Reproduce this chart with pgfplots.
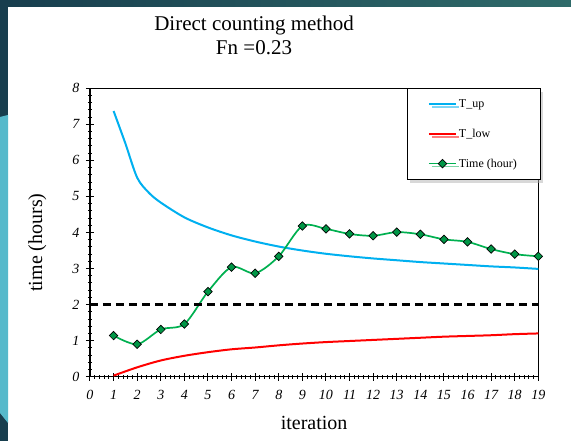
\documentclass[border=0pt]{standalone}
\usepackage{fontspec}
\setmainfont{Liberation Serif}
\usepackage{pgfplots}
\pgfplotsset{compat=1.18}
\usetikzlibrary{shadows}
\definecolor{tup}{RGB}{0,176,240}
\definecolor{tlow}{RGB}{255,0,0}
\definecolor{tgreen}{RGB}{0,176,80}
\definecolor{mgreen}{RGB}{0,150,70}
\definecolor{darkteal}{RGB}{24,62,78}
\definecolor{teal2}{RGB}{47,107,106}
\definecolor{lightblue}{RGB}{86,185,203}
\begin{document}
\begin{tikzpicture}
\fill[white] (0,0) rectangle (571pt,441pt);
\shade[left color=darkteal, right color=teal2] (0,434pt) rectangle (571pt,441pt);
\fill[darkteal] (0,0) rectangle (8pt,441pt);
\fill[lightblue] (0,324pt) -- (8pt,326pt) -- (8pt,18pt) -- (0,28pt) -- cycle;
\node[font=\fontsize{21}{24}\selectfont] at (254pt,416pt) {Direct counting method};
\node[font=\fontsize{21}{24}\selectfont] at (254pt,393pt) {Fn =0.23};
\begin{axis}[
  at={(90pt,64.3pt)}, anchor=south west, scale only axis,
  width=448.3pt, height=288.4pt,
  xmin=0, xmax=19, ymin=0, ymax=8,
  xtick={0,...,19}, ytick={0,...,8},
  minor x tick num=4, minor y tick num=4,
  tick pos=left, tick align=center,
  major tick length=8pt, minor tick length=4pt,
  axis line style={line width=1.2pt},
  tick style={black, line width=1pt},
  /pgf/number format/assume math mode=true,
  tick label style={font=\fontsize{14}{16}\selectfont\itshape},
  xticklabel style={yshift=-6pt},
  yticklabel style={xshift=-3pt},
  xlabel={iteration}, ylabel={time (hours)},
  label style={font=\fontsize{20}{24}\selectfont},
  xlabel style={at={(axis description cs:0.5,-0.1605)}, anchor=center},
  ylabel style={at={(axis description cs:-0.1176,0.4653)}, anchor=center},
  legend style={at={(0.7065,1)}, anchor=north west, draw=black,
    fill=white, font=\fontsize{12}{14}\selectfont, row sep=16pt,
    inner xsep=21pt, inner ysep=9pt,
    drop shadow={shadow xshift=3pt, shadow yshift=-3pt, fill=gray!60},
    /tikz/every even column/.append style={column sep=3pt}},
  legend cell align=left,
  legend image code/.code={\draw[#1, mark repeat=2, mark phase=2] plot coordinates {(0pt,0pt) (13.5pt,0pt) (27pt,0pt)};},
]
\addplot[tup, line width=2pt, smooth, no marks] coordinates {
(1,7.37) (1.5,6.47) (2,5.52) (2.5,5.10) (3,4.83) (4,4.42) (5,4.14) (6,3.92) (7,3.75) (8,3.61)
(9,3.50) (10,3.41) (11,3.34) (12,3.28) (13,3.23) (14,3.18) (15,3.14) (16,3.10) (17,3.06) (18,3.03) (19,2.99)};
\addlegendentry{T\_up}
\addplot[tlow, line width=2pt, smooth, no marks] coordinates {
(1,0.03) (2,0.26) (3,0.45) (4,0.58) (5,0.68) (6,0.76) (7,0.81) (8,0.87) (9,0.92) (10,0.96)
(11,0.99) (12,1.02) (13,1.05) (14,1.08) (15,1.11) (16,1.13) (17,1.15) (18,1.18) (19,1.20)};
\addlegendentry{T\_low}
\addplot[tgreen, line width=1.7pt, smooth, mark=square*, mark size=3pt,
  mark options={fill=mgreen, draw=black, line width=0.7pt, rotate=45, solid}] coordinates {
(1,1.14) (2,0.90) (3,1.31) (4,1.46) (5,2.36) (6,3.04) (7,2.87) (8,3.34) (9,4.18) (10,4.10)
(11,3.96) (12,3.91) (13,4.01) (14,3.95) (15,3.81) (16,3.74) (17,3.54) (18,3.40) (19,3.34)};
\addlegendentry{Time (hour)}
\addplot[black, line width=2.2pt, dash pattern=on 8pt off 5pt, forget plot] coordinates {(0,2) (19,2)};
\end{axis}
\pgfresetboundingbox
\useasboundingbox (0,0) rectangle (571pt,441pt);
\end{tikzpicture}
\end{document}
